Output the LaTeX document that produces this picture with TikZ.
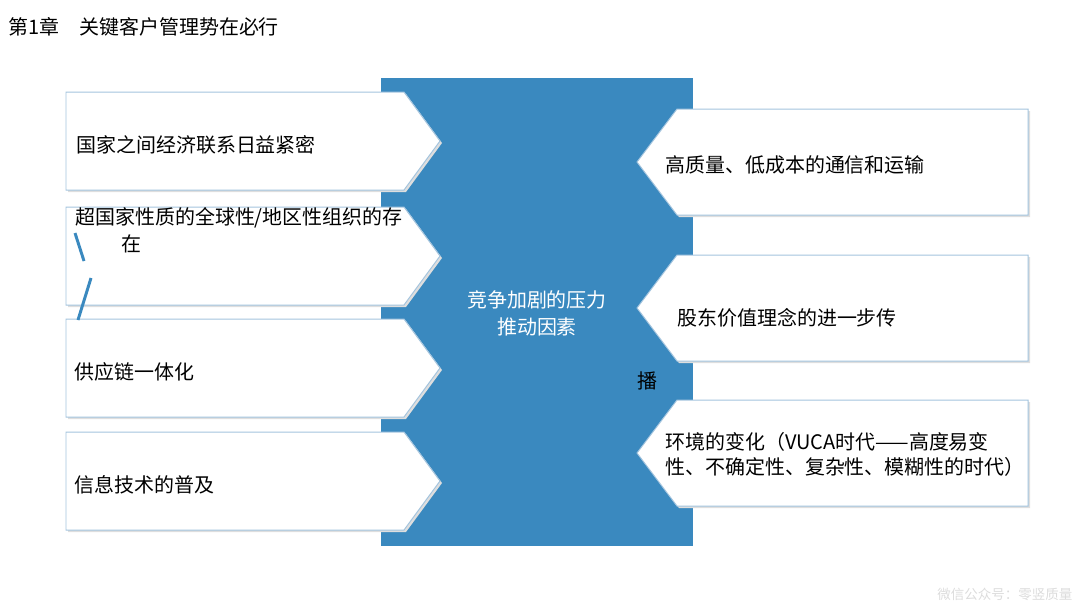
\documentclass[tikz,border=0pt]{standalone}
\usepackage{fontspec}
\setmainfont{Noto Sans CJK SC}
\usetikzlibrary{positioning, calc}
\definecolor{pushblue}{HTML}{3A89BF}
\definecolor{factorborder}{HTML}{A3C4DE}
\definecolor{factorshadow}{HTML}{DEDEDE}
\definecolor{markgray}{HTML}{DCDCDC}
\tikzset{
    factor/.style={
        draw=factorborder, fill=white, line width=0.7pt,
    },
    factorshade/.style={
        fill=factorshadow,
    },
    factortext/.style={
        anchor=west, inner sep=0pt, align=left,
        font=\fontsize{14.2}{19}\selectfont,
    },
    slashmark/.style={
        draw=pushblue, line width=2.1pt,
    },
}

\begin{document}
\begin{tikzpicture}[x=0.025cm, y=-0.025cm]
\useasboundingbox (0,0) rectangle (1080,608);

% ── Title ────────────────────────────────────────────────────
\node[factortext] (title) at (8,27) {第1章　关键客户管理势在必行};

% ── Pressure column ──────────────────────────────────────────
\fill[pushblue] (381,78) rectangle (693,546);

% ── Left factors (point right into the column) ───────────────
\foreach \top in {92,207,319,432} {
    \fill[factorshade] (68,\top+2) -- (406,\top+2) -- (442,\top+51) -- (406,\top+100) -- (68,\top+100) -- cycle;
    \draw[factor] (66,\top) -- (404,\top) -- (440,\top+49) -- (404,\top+98) -- (66,\top+98) -- cycle;
}

% ── Right factors (point left into the column) ───────────────
\foreach \top in {109,255,400} {
    \fill[factorshade] (1030,\top+2) -- (679,\top+2) -- (639,\top+55) -- (679,\top+108) -- (1030,\top+108) -- cycle;
    \draw[factor] (1028,\top) -- (677,\top) -- (637,\top+53) -- (677,\top+106) -- (1028,\top+106) -- cycle;
}

% ── Texts ────────────────────────────────────────────────────
\node[factortext, align=center, text=white] (pressure) at (537,313.5) [anchor=center] {竞争加剧的压力\\推动因素};

\node[factortext] (economy) at (76,145) {国家之间经济联系日益紧密};
\node[factortext, font=\fontsize{14.2}{19.2}\selectfont] (supranational) at (75,230.5) {超国家性质的全球性/地区性组织的存\\\hspace*{2.3em}在};
\node[factortext] (supply) at (74,372) {供应链一体化};
\node[factortext] (infotech) at (74,485) {信息技术的普及};

\node[factortext] (transport) at (665,165) {高质量、低成本的通信和运输};
\node[factortext] (shareholder) at (677,318) {股东价值理念的进一步传};
\node[factortext] (shareholdertail) at (637,381) {播};
\node[factortext, font=\fontsize{14.2}{17.7}\selectfont] (vuca) at (665,454.5) {环境的变化（VUCA时代——高度易变\\性、不确定性、复杂性、模糊性的时代）};

% stray marks beside the second factor
\draw[slashmark] (75,233) -- (84,261);
\draw[slashmark] (91,278) -- (78,320);

% ── Watermark ────────────────────────────────────────────────
\node[factortext, font=\fontsize{9.6}{11}\selectfont, text=markgray] (watermark) at (937,594) {微信公众号：零竖质量};

\end{tikzpicture}
\end{document}
